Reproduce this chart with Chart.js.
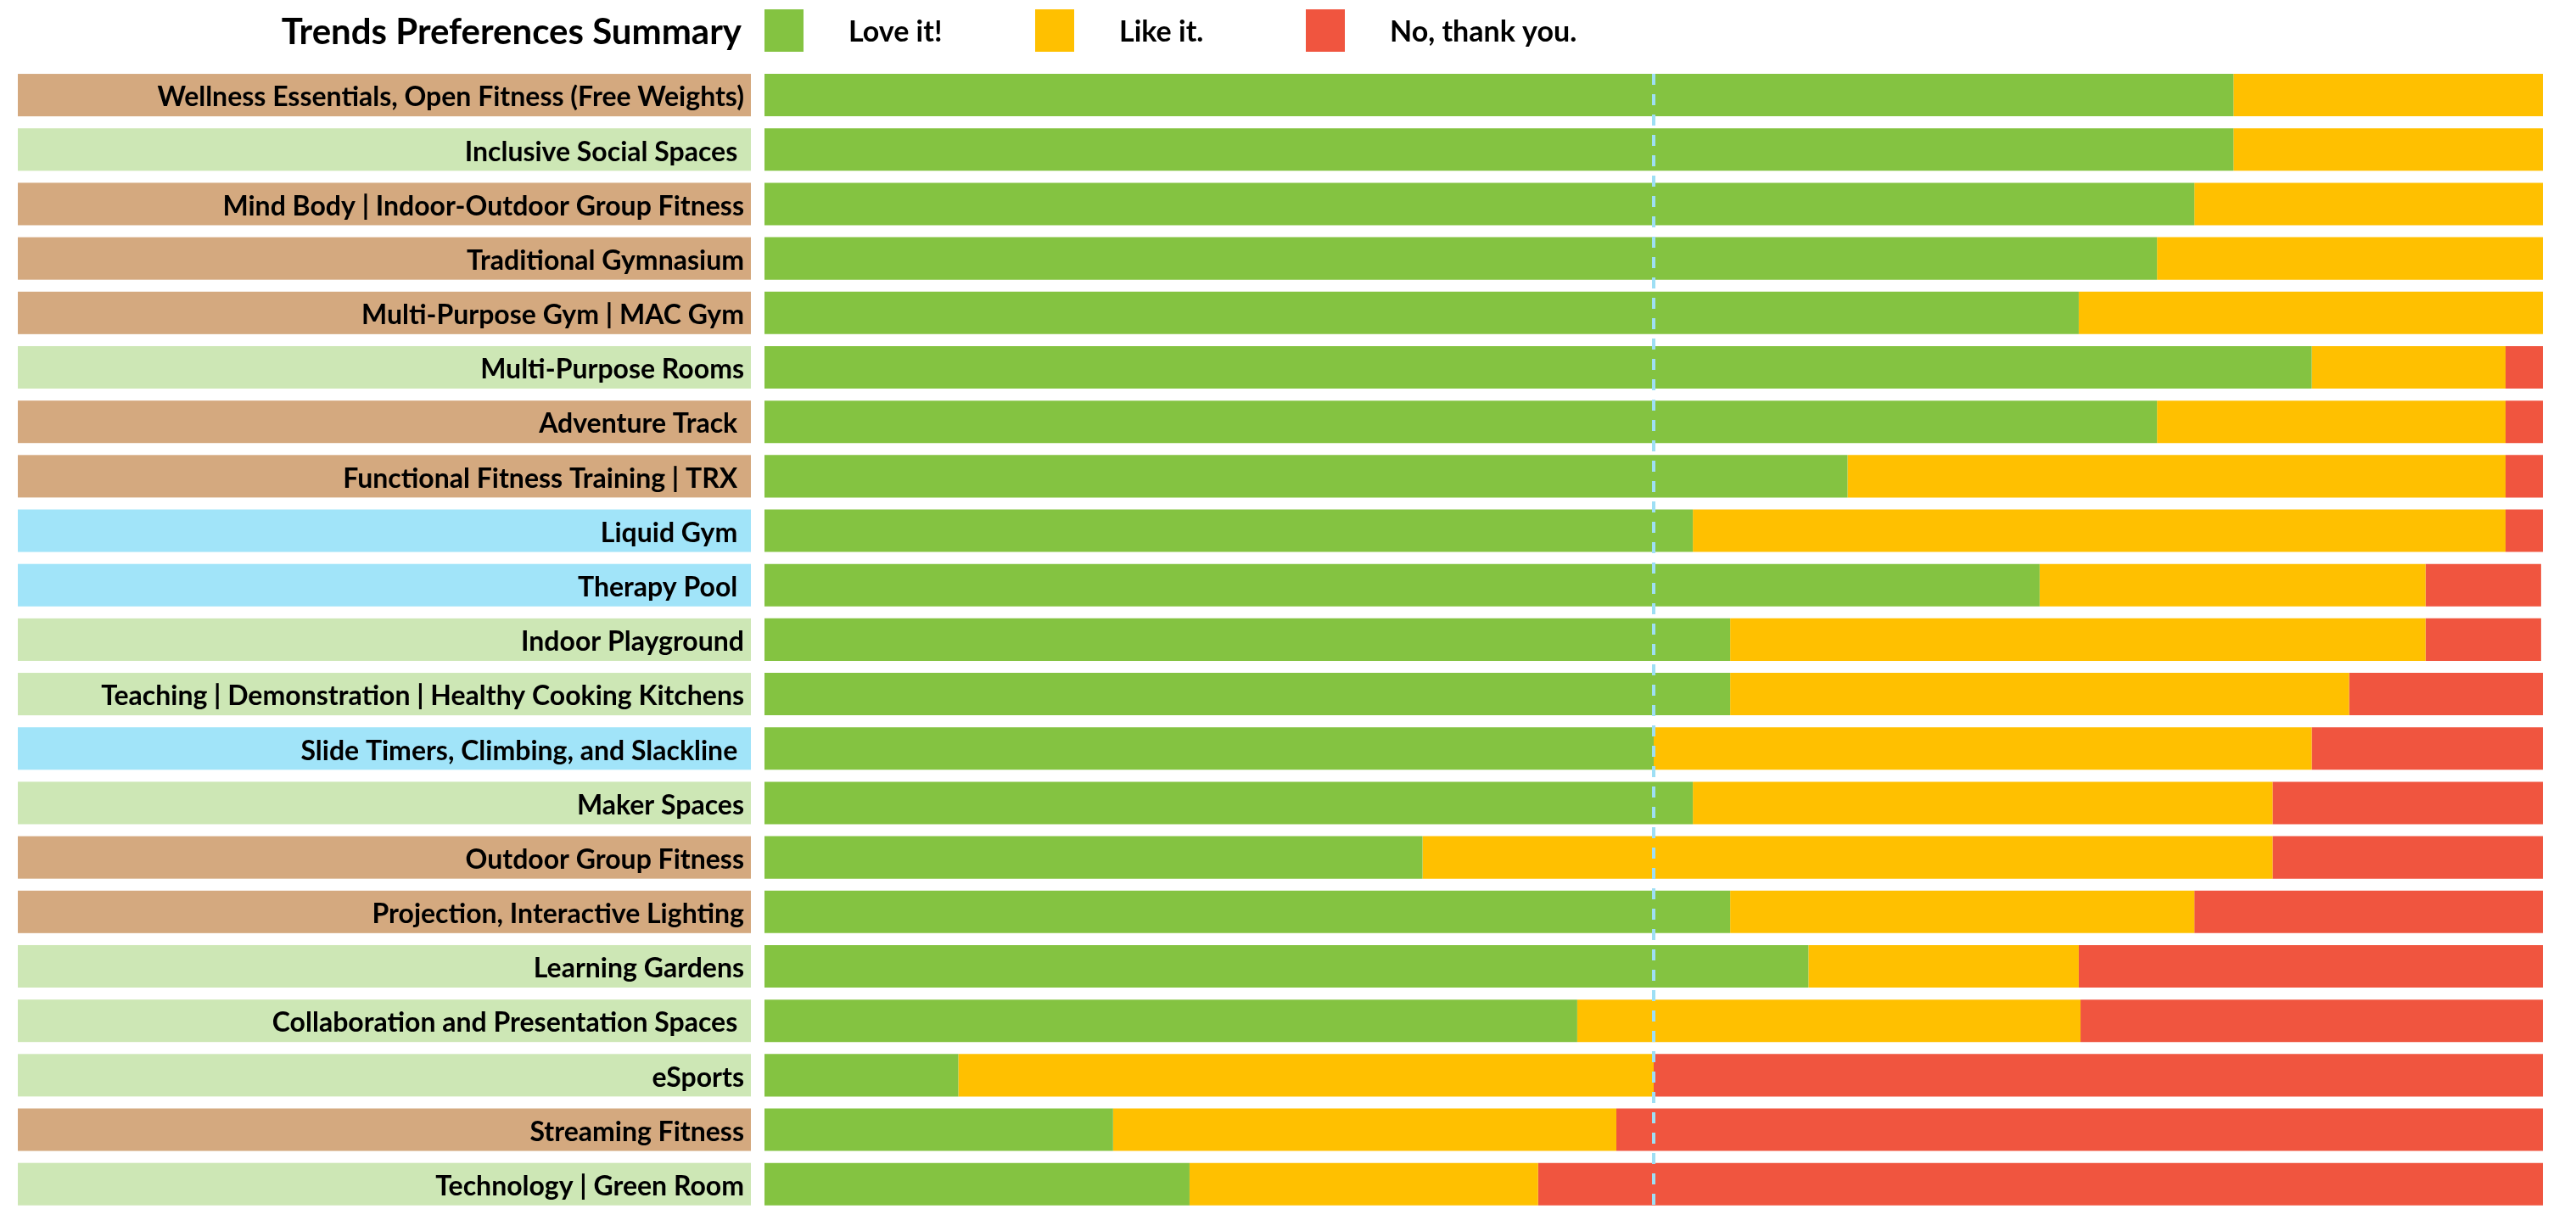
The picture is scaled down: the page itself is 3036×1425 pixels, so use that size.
<!DOCTYPE html>
<html>
<head>
<meta charset="utf-8">
<script src="https://cdn.jsdelivr.net/npm/chart.js@4.4.1/dist/chart.umd.min.js"></script>
<style>
  html, body { margin: 0; padding: 0; background: #fff; overflow: hidden; }
  #wrap { width: 3036px; height: 1471px; }
</style>
</head>
<body>
<div id="wrap"><canvas id="trendsChart" width="3036" height="1471"></canvas></div>
<script>
const categories = [
  "Wellness Essentials, Open Fitness (Free Weights)",
  "Inclusive Social Spaces ",
  "Mind Body | Indoor-Outdoor Group Fitness",
  "Traditional Gymnasium",
  "Multi-Purpose Gym | MAC Gym",
  "Multi-Purpose Rooms",
  "Adventure Track ",
  "Functional Fitness Training | TRX ",
  "Liquid Gym ",
  "Therapy Pool ",
  "Indoor Playground",
  "Teaching | Demonstration | Healthy Cooking Kitchens",
  "Slide Timers, Climbing, and Slackline ",
  "Maker Spaces",
  "Outdoor Group Fitness",
  "Projection, Interactive Lighting",
  "Learning Gardens",
  "Collaboration and Presentation Spaces ",
  "eSports",
  "Streaming Fitness",
  "Technology | Green Room"
];

// group of each category (drives the label box colour)
const groups = [
  "fitness", "community", "fitness", "fitness", "fitness", "community", "fitness",
  "fitness", "aquatic", "aquatic", "community", "community", "aquatic", "community",
  "fitness", "fitness", "community", "community", "community", "fitness", "community"
];

const seriesNames = ["Love it!", "Like it.", "No, thank you."];

// percent of responses
const loveIt = [82.6, 82.6, 80.4, 78.3, 73.9, 87.0, 78.3, 60.9, 52.2, 71.7, 54.3, 54.3, 50.0, 52.2, 37.0, 54.3, 58.7, 45.7, 10.9, 19.6, 23.9];
const likeIt = [17.4, 17.4, 19.6, 21.7, 26.1, 10.9, 19.6, 37.0, 45.7, 21.7, 39.1, 34.8, 37.0, 32.6, 47.8, 26.1, 15.2, 28.3, 39.1, 28.3, 19.6];
const noThanks = [0, 0, 0, 0, 0, 2.2, 2.2, 2.2, 2.2, 6.5, 6.5, 10.9, 13.0, 15.2, 15.2, 19.6, 26.1, 26.1, 50.0, 52.2, 56.5];

const midLine = 50;
const titleText = "Trends Preferences Summary";

const groupColors = { fitness: "#D4A97F", community: "#CDE7B5", aquatic: "#A1E4F9" };
const seriesColors = ["#84C341", "#FFC000", "#F0553F"];
const FONT = "Lato, 'Liberation Sans', sans-serif";

// label boxes behind the y axis text
const labelBoxes = {
  id: "labelBoxes",
  beforeDraw(chart) {
    const ctx = chart.ctx;
    const bars = chart.getDatasetMeta(0).data;
    ctx.save();
    bars.forEach((bar, i) => {
      const h = bar.height;
      ctx.fillStyle = groupColors[groups[i]];
      ctx.fillRect(21, bar.y - h / 2, 864, h);
    });
    ctx.restore();
  }
};

// dashed 50% line
const midMarker = {
  id: "midMarker",
  afterDatasetsDraw(chart) {
    const ctx = chart.ctx;
    const bars = chart.getDatasetMeta(0).data;
    const x = chart.scales.x.getPixelForValue(midLine);
    const top = bars[0].y - bars[0].height / 2;
    const last = bars[bars.length - 1];
    const bottom = last.y + last.height / 2;
    ctx.save();
    ctx.strokeStyle = "#9EDFF4";
    ctx.lineWidth = 4;
    ctx.setLineDash([13, 11]);
    ctx.beginPath();
    ctx.moveTo(x, top);
    ctx.lineTo(x, bottom);
    ctx.stroke();
    ctx.restore();
  }
};

// title + legend row in the header
const header = {
  id: "header",
  afterDraw(chart) {
    const ctx = chart.ctx;
    ctx.save();
    ctx.fillStyle = "#000";
    ctx.textBaseline = "alphabetic";
    ctx.font = "bold 42px " + FONT;
    ctx.textAlign = "right";
    ctx.fillText(titleText, 874, 52);

    ctx.font = "bold 34px " + FONT;
    ctx.textAlign = "left";
    chart.data.datasets.forEach((ds, i) => {
      const bx = 901 + i * 319;
      ctx.fillStyle = ds.backgroundColor;
      ctx.fillRect(bx, 11, 46, 50);
      ctx.fillStyle = "#000";
      ctx.fillText(ds.label, bx + 99, 49);
    });
    ctx.restore();
  }
};

new Chart(document.getElementById("trendsChart"), {
  type: "bar",
  data: {
    labels: categories,
    datasets: [loveIt, likeIt, noThanks].map((vals, i) => ({
      label: seriesNames[i],
      data: vals,
      backgroundColor: seriesColors[i],
      borderWidth: 0,
      barPercentage: 0.78,
      categoryPercentage: 1
    }))
  },
  options: {
    indexAxis: "y",
    responsive: false,
    devicePixelRatio: 1,
    animation: false,
    layout: { padding: { top: 80, bottom: 0, left: 21, right: 39 } },
    plugins: {
      legend: { display: false },
      title: { display: false },
      tooltip: { enabled: false }
    },
    scales: {
      x: {
        stacked: true,
        min: 0,
        max: 100,
        display: false
      },
      y: {
        stacked: true,
        grid: { display: false, drawTicks: false },
        border: { display: false },
        afterFit(scale) { scale.width = 880; },
        ticks: {
          autoSkip: false,
          padding: 24,
          labelOffset: 3,
          color: "#000",
          font: { family: FONT, size: 32, weight: "bold" }
        }
      }
    }
  },
  plugins: [labelBoxes, midMarker, header]
});
</script>
</body>
</html>
